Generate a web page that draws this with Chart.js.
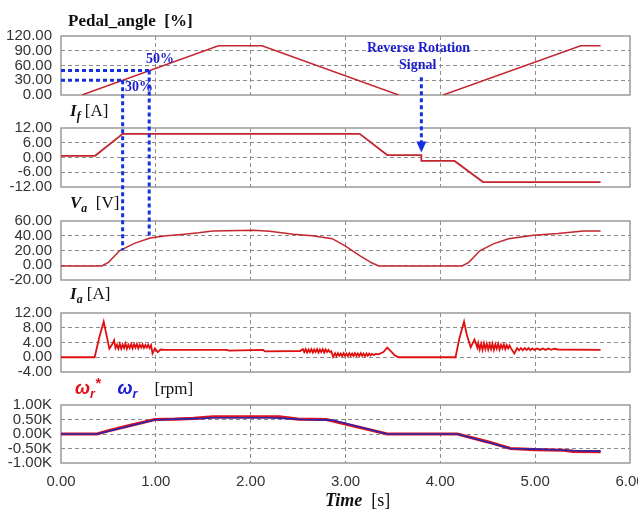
<!DOCTYPE html>
<html>
<head>
<meta charset="utf-8">
<script src="https://cdn.jsdelivr.net/npm/chart.js@4.4.1/dist/chart.umd.min.js"></script>
<style>
  body { margin: 0; background: #fff; }
  #wrap { position: relative; width: 638px; height: 511px; overflow: hidden; }
  canvas { position: absolute; left: 0; top: 0; }
  .t { position: absolute; font-family: "Liberation Serif", "Times New Roman", serif; font-size: 17px; line-height: 17px; color: #111; white-space: nowrap; }
  .w { font-family: "Liberation Sans", Arial, sans-serif; font-weight: bold; font-style: italic; font-size: 18px; }
  .n { position: absolute; font-family: "Liberation Serif", serif; font-weight: bold; font-size: 14px; line-height: 14px; color: #1d1dd0; white-space: nowrap; }
  sub { font-size: 0.7em; vertical-align: -0.3em; line-height: 0; }
  sup { font-size: 0.8em; vertical-align: 0.4em; line-height: 0; }
</style>
</head>
<body>
<div id="wrap">
  <canvas id="c1" width="638" height="511"></canvas>
  <canvas id="c2" width="638" height="511"></canvas>
  <canvas id="c3" width="638" height="511"></canvas>
  <canvas id="c4" width="638" height="511"></canvas>
  <canvas id="c5" width="638" height="511"></canvas>

  <div class="t" style="left:68px;top:12px;font-weight:bold">Pedal_angle&nbsp; [%]</div>
  <div class="t" style="left:70px;top:102px"><b><i>I<sub>f</sub></i></b> [A]</div>
  <div class="t" style="left:70px;top:194px"><b><i>V<sub>a</sub></i></b>&nbsp; [V]</div>
  <div class="t" style="left:70px;top:285px"><b><i>I<sub>a</sub></i></b> [A]</div>
  <div class="t" style="left:75px;top:380px"><span class="w" style="color:#e0101a">ω<sub>r</sub><sup>*</sup></span>&nbsp;&nbsp;&nbsp; <span class="w" style="color:#1a1ad0">ω<sub>r</sub></span>&nbsp;&nbsp;&nbsp; [rpm]</div>
  <div class="t" style="left:325px;top:492px;font-size:18px"><b><i>Time</i></b>&nbsp; [s]</div>

  <div class="n" style="left:146px;top:52px">50%</div>
  <div class="n" style="left:125px;top:80px">30%</div>
  <div class="n" style="left:367px;top:41px">Reverse Rotation</div>
  <div class="n" style="left:399px;top:58px">Signal</div>
</div>
<script>
// time axis
const xTicks = [0, 1, 2, 3, 4, 5, 6];
const xLabels = ['0.00', '1.00', '2.00', '3.00', '4.00', '5.00', '6.00'];

// Pedal angle [%]
const pedalTicks = [0, 30, 60, 90, 120];
const pedalLabels = ['0.00', '30.00', '60.00', '90.00', '120.00'];
const pedalT = [0.22, 1.66, 2.12, 3.56, 3.8, 4.03, 5.48, 5.69];
const pedalV = [0, 100, 100, 0, null, 0, 100, 100];

// field current If [A]
const ifTicks = [-12, -6, 0, 6, 12];
const ifLabels = ['-12.00', '-6.00', '0.00', '6.00', '12.00'];
const ifT = [0, 0.36, 0.65, 3.15, 3.44, 3.80, 3.80, 4.15, 4.45, 5.69];
const ifV = [0.7, 0.7, 9.6, 9.6, 1.0, 1.0, -1.4, -1.4, -10, -10];

// armature voltage Va [V]
const vaTicks = [-20, 0, 20, 40, 60];
const vaLabels = ['-20.00', '0.00', '20.00', '40.00', '60.00'];
const vaT = [0, 0.43, 0.5, 0.62, 0.78, 0.94, 1.11, 1.3, 1.45, 1.6, 2.03, 2.2, 2.45, 2.65, 2.86, 3.0, 3.15, 3.28, 3.35,
             4.23, 4.3, 4.42, 4.56, 4.72, 4.98, 5.24, 5.51, 5.69];
const vaV = [-1, -1, 4, 20, 30, 37, 40, 42, 44, 46.5, 47.5, 46, 42, 40, 36, 26, 13, 3, -1,
             -1, 4, 20, 29, 36, 40.7, 43, 46.6, 46.6];

// armature current Ia [A], [time, value]
const iaTicks = [-4, 0, 4, 8, 12];
const iaLabels = ['-4.00', '0.00', '4.00', '8.00', '12.00'];
const iaPts = [
    [0, 0], [0.355, 0], [0.40, 5], [0.45, 9.7], [0.48, 6], [0.51, 2.3], [0.54, 3.5], [0.56, 4.6], [0.575, 2.5],
    [0.590, 3.4], [0.605, 2.3], [0.620, 3.6], [0.635, 2.3], [0.650, 3.5], [0.665, 2.5], [0.680, 3.7], [0.695, 2.3],
    [0.710, 3.4], [0.725, 2.5], [0.740, 3.6], [0.755, 2.4], [0.770, 3.5], [0.785, 2.6], [0.800, 3.6], [0.815, 2.4],
    [0.830, 3.4], [0.845, 2.6], [0.860, 3.5], [0.875, 2.5], [0.890, 3.3], [0.905, 2.6], [0.920, 3.4], [0.935, 2.5],
    [0.950, 3.3], [0.965, 1.0], [0.99, 2.4], [1.02, 1.4], [1.05, 2.1], [1.1, 2.0], [1.75, 2.0], [1.77, 1.8],
    [2.13, 2.0], [2.15, 1.6], [2.52, 1.7],
    [2.550, 2.2], [2.565, 1.4], [2.580, 2.2], [2.595, 1.3], [2.610, 2.1], [2.625, 1.4], [2.640, 2.2], [2.655, 1.3],
    [2.670, 2.1], [2.685, 1.4], [2.700, 2.2], [2.715, 1.3], [2.730, 2.1], [2.745, 1.4], [2.760, 2.2], [2.775, 1.3],
    [2.790, 2.1], [2.805, 1.4], [2.820, 2.0], [2.835, 1.4], [2.85, 1.6], [2.87, 0.1],
    [2.890, 1.1], [2.905, 0.3], [2.920, 1.1], [2.935, 0.4], [2.950, 1.0], [2.965, 0.3], [2.980, 1.1], [2.995, 0.4],
    [3.010, 1.0], [3.025, 0.3], [3.040, 1.1], [3.055, 0.4], [3.070, 1.0], [3.085, 0.3], [3.100, 1.1], [3.115, 0.4],
    [3.130, 1.0], [3.145, 0.3], [3.160, 1.1], [3.175, 0.4], [3.190, 1.0], [3.205, 0.3], [3.220, 1.0], [3.235, 0.4],
    [3.250, 1.0], [3.265, 0.5], [3.280, 0.9], [3.300, 0.6], [3.320, 0.9], [3.35, 0.8], [3.40, 1.4], [3.44, 2.6],
    [3.48, 1.6], [3.52, 0.5], [3.56, 0],
    [4.16, 0], [4.20, 5], [4.25, 9.7], [4.28, 6], [4.32, 2.7], [4.36, 4.8], [4.39, 2.6],
    [4.400, 3.8], [4.415, 2.1], [4.430, 3.7], [4.445, 2.0], [4.460, 3.8], [4.475, 2.2], [4.490, 3.7], [4.505, 2.1],
    [4.520, 3.6], [4.535, 2.2], [4.550, 3.7], [4.565, 2.0], [4.580, 3.5], [4.595, 2.3], [4.610, 3.6], [4.625, 2.1],
    [4.640, 3.4], [4.655, 2.4], [4.670, 3.5], [4.685, 2.2], [4.700, 3.3], [4.715, 2.4], [4.730, 3.2], [4.745, 2.4],
    [4.78, 1.0], [4.81, 2.5],
    [4.83, 1.9], [4.85, 2.5], [4.87, 1.9], [4.89, 2.5], [4.91, 2.0], [4.93, 2.5], [4.95, 1.9], [4.97, 2.4],
    [4.99, 2.0], [5.02, 2.4], [5.05, 2.0], [5.08, 2.4], [5.11, 2.0], [5.14, 2.4], [5.17, 2.0], [5.20, 2.3],
    [5.24, 2.1], [5.69, 2.0]
];

// speed reference and actual [rpm]
const wTicks = [-1000, -500, 0, 500, 1000];
const wLabels = ['-1.00K', '-0.50K', '0.00K', '0.50K', '1.00K'];
const wRefT = [0, 0.38, 0.5, 0.7, 0.99, 1.2, 1.4, 1.6, 2.3, 2.5, 2.8, 3.44, 4.18, 4.5, 4.74, 5.0, 5.3, 5.4, 5.69];
const wRefV = [0, 0, 110, 270, 500, 510, 540, 590, 590, 510, 500, 0, 0, -270, -500, -540, -560, -600, -610];
const wT = [0, 0.38, 0.99, 1.1, 1.3, 1.5, 1.6, 2.2, 2.4, 2.55, 2.86, 3.44, 4.18, 4.74, 5.0, 5.25, 5.45, 5.69];
const wV = [0, 0, 490, 500, 520, 540, 560, 560, 530, 500, 480, 0, 0, -500, -520, -550, -580, -600];

// blue annotation marks
const markT = [0.65, 0.93];
const markPedal = [30, 50];
const markVa = [20, 38];
const reverseT = 3.80;
const reverseFrom = 36;   // pedal-panel value where the arrow starts
const reverseTo = 2;      // If-panel value at arrow tip

Chart.defaults.font.family = '"Liberation Sans", Arial, sans-serif';
Chart.defaults.font.size = 15;
Chart.defaults.color = '#333';

const pts = (ts, vs) => ts.map((t, i) => ({ x: t, y: vs[i] }));

const framePlugin = {
    id: 'frame',
    beforeDatasetsDraw(chart) {
        const a = chart.chartArea, c = chart.ctx;
        c.save();
        c.strokeStyle = '#9a9a9a';
        c.lineWidth = 1.5;
        c.strokeRect(a.left, a.top, a.right - a.left, a.bottom - a.top);
        c.restore();
    }
};

const panels = [];

const marksPlugin = {
    id: 'marks',
    afterDraw(chart) {
        const c = chart.ctx;
        const x = chart.scales.x;
        const yp = panels[0].scales.y, yf = panels[1].scales.y, yv = panels[2].scales.y;
        const left = x.getPixelForValue(0);
        c.save();
        c.strokeStyle = '#1430e0';
        c.fillStyle = '#1430e0';
        c.lineWidth = 3;
        c.setLineDash([4, 3]);
        markT.forEach((t, i) => {
            const px = x.getPixelForValue(t);
            const py = yp.getPixelForValue(markPedal[i]);
            c.beginPath();
            c.moveTo(left, py);
            c.lineTo(px, py);
            c.moveTo(px, py);
            c.lineTo(px, yv.getPixelForValue(markVa[i]));
            c.stroke();
        });
        const rx = x.getPixelForValue(reverseT);
        const tip = yf.getPixelForValue(reverseTo);
        c.beginPath();
        c.moveTo(rx, yp.getPixelForValue(reverseFrom));
        c.lineTo(rx, tip - 8);
        c.stroke();
        c.setLineDash([]);
        c.beginPath();
        c.moveTo(rx - 5, tip - 11);
        c.lineTo(rx + 5, tip - 11);
        c.lineTo(rx, tip);
        c.closePath();
        c.fill();
        c.restore();
    }
};

function makePanel(id, p) {
    const xh = p.showX ? 30 : 0;
    const edge = (min, max) => ctx => {
        const v = ctx.tick ? ctx.tick.value : null;
        return (v === min || v === max) ? 'rgba(0,0,0,0)' : '#8c8c8c';
    };
    const chart = new Chart(document.getElementById(id), {
        type: 'line',
        data: { datasets: p.datasets },
        options: {
            responsive: false,
            animation: false,
            devicePixelRatio: 1,
            layout: { padding: { top: p.top, bottom: 511 - p.bottom - xh, left: 0, right: 8 } },
            plugins: { legend: { display: false }, tooltip: { enabled: false } },
            elements: { point: { radius: 0 }, line: { borderWidth: 1.5, tension: 0 } },
            scales: {
                x: {
                    type: 'linear', min: 0, max: 6,
                    afterBuildTicks: s => { s.ticks = xTicks.map(v => ({ value: v })); },
                    afterFit: s => { s.height = xh; s.paddingLeft = 0; s.paddingRight = 0; },
                    grid: { color: edge(0, 6), drawTicks: false, lineWidth: 1 },
                    border: { display: false, dash: [4, 3] },
                    ticks: { display: p.showX, padding: 10, maxRotation: 0, autoSkip: false,
                             callback: (v, i) => xLabels[i] }
                },
                y: {
                    min: p.ticks[0], max: p.ticks[p.ticks.length - 1],
                    afterBuildTicks: s => { s.ticks = p.ticks.map(v => ({ value: v })); },
                    afterFit: s => { s.width = 61; s.paddingTop = 0; s.paddingBottom = 0; },
                    grid: { color: edge(p.ticks[0], p.ticks[p.ticks.length - 1]), drawTicks: false, lineWidth: 1 },
                    border: { display: false, dash: [4, 3] },
                    ticks: { padding: 9, autoSkip: false, callback: (v, i) => p.labels[i] }
                }
            }
        },
        plugins: p.showX ? [framePlugin, marksPlugin] : [framePlugin]
    });
    panels.push(chart);
    return chart;
}

const red = '#c4262e';

makePanel('c1', { top: 36, bottom: 95, ticks: pedalTicks, labels: pedalLabels,
    datasets: [{ data: pts(pedalT, pedalV), borderColor: red, spanGaps: false }] });
makePanel('c2', { top: 128, bottom: 187, ticks: ifTicks, labels: ifLabels,
    datasets: [{ data: pts(ifT, ifV), borderColor: red, borderWidth: 1.8 }] });
makePanel('c3', { top: 221, bottom: 280, ticks: vaTicks, labels: vaLabels,
    datasets: [{ data: pts(vaT, vaV), borderColor: red }] });
makePanel('c4', { top: 313, bottom: 372, ticks: iaTicks, labels: iaLabels,
    datasets: [{ data: iaPts.map(([t, v]) => ({ x: t, y: v })), borderColor: '#e01010', borderWidth: 1.8 }] });
makePanel('c5', { top: 405, bottom: 463, ticks: wTicks, labels: wLabels, showX: true,
    datasets: [
        { data: pts(wT, wV), borderColor: '#2626b4', borderWidth: 1.6 },
        { data: pts(wRefT, wRefV), borderColor: '#e0101a', borderWidth: 3.2 }
    ] });
</script>
</body>
</html>
